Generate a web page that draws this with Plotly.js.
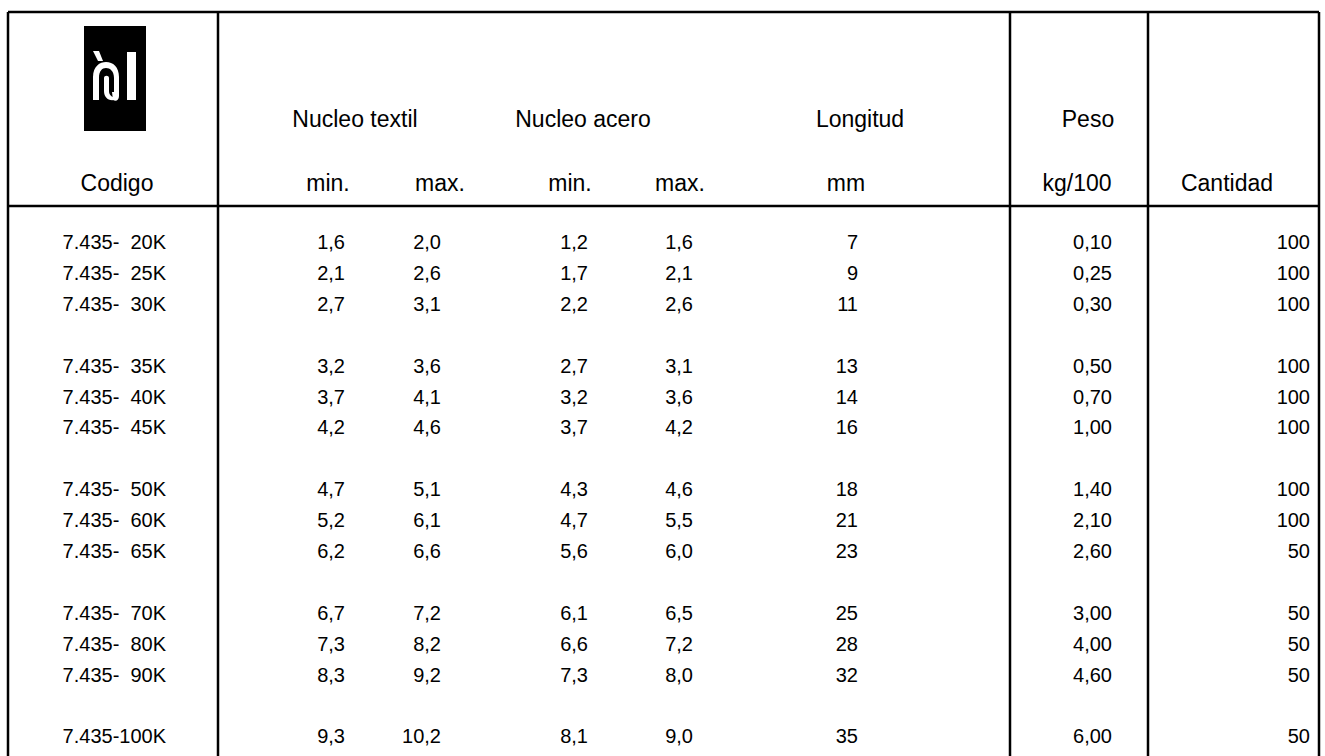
<!DOCTYPE html>
<html>
<head>
<meta charset="utf-8">
<script src="https://cdn.plot.ly/plotly-3.0.1.min.js"></script>
<style>
html,body{margin:0;padding:0;background:#fff;}
#chart{width:1325px;height:756px;}
</style>
</head>
<body>
<div id="chart"></div>
<script>
// ---- data ----
var codes = ['20K','25K','30K','35K','40K','45K','50K','60K','65K','70K','80K','90K','100K'];
var textilMin = [1.6,2.1,2.7,3.2,3.7,4.2,4.7,5.2,6.2,6.7,7.3,8.3,9.3];
var textilMax = [2.0,2.6,3.1,3.6,4.1,4.6,5.1,6.1,6.6,7.2,8.2,9.2,10.2];
var aceroMin = [1.2,1.7,2.2,2.7,3.2,3.7,4.3,4.7,5.6,6.1,6.6,7.3,8.1];
var aceroMax = [1.6,2.1,2.6,3.1,3.6,4.2,4.6,5.5,6.0,6.5,7.2,8.0,9.0];
var longitud = [7,9,11,13,14,16,18,21,23,25,28,32,35];
var peso = [0.10,0.25,0.30,0.50,0.70,1.00,1.40,2.10,2.60,3.00,4.00,4.60,6.00];
var cantidad = [100,100,100,100,100,100,100,100,50,50,50,50,50];
var headerTop = ['Nucleo textil','Nucleo acero','Longitud','Peso'];
var headerBottom = ['Codigo','min.','max.','min.','max.','mm','kg/100','Cantidad'];

// ---- layout constants ----
var W = 1325, H = 756;
var HFONT = 'Liberation Sans, Arial, sans-serif';
var DFONT = 'Liberation Sans, Arial, sans-serif';
var HFS = 23, DFS = 20;
var y0 = 244, step = 30.9;
function rowY(i){ return y0 + (i + Math.floor(i/3)) * step; }
function fmt(v, d){ return v.toFixed(d).replace('.', ','); }
function codeLabel(c){ return '7.435-' + (c.length < 4 ? '\u00A0\u00A0' : '') + c; }

var ys = codes.map(function(_, i){ return rowY(i); });

var columns = [
  {x:166, text: codes.map(codeLabel)},
  {x:345, text: textilMin.map(function(v){return fmt(v,1);})},
  {x:441, text: textilMax.map(function(v){return fmt(v,1);})},
  {x:588, text: aceroMin.map(function(v){return fmt(v,1);})},
  {x:693, text: aceroMax.map(function(v){return fmt(v,1);})},
  {x:858, text: longitud.map(String)},
  {x:1112, text: peso.map(function(v){return fmt(v,2);})},
  {x:1310, text: cantidad.map(String)}
];

var traces = columns.map(function(col){
  return {
    type:'scatter', mode:'text', x: ys.map(function(){return col.x;}), y: ys,
    text: col.text, textposition:'middle left',
    textfont:{family:DFONT, size:DFS, color:'#000'},
    hoverinfo:'skip', showlegend:false, cliponaxis:false
  };
});

var topX = [355, 583, 860, 1088];
traces.push({
  type:'scatter', mode:'text', x: topX, y: topX.map(function(){return 121;}),
  text: headerTop, textposition:'middle center',
  textfont:{family:HFONT, size:HFS, color:'#000'}, hoverinfo:'skip', showlegend:false, cliponaxis:false
});
var botX = [117, 328, 440, 570, 680, 846, 1077, 1227];
traces.push({
  type:'scatter', mode:'text', x: botX, y: botX.map(function(){return 185;}),
  text: headerBottom, textposition:'middle center',
  textfont:{family:HFONT, size:HFS, color:'#000'}, hoverinfo:'skip', showlegend:false, cliponaxis:false
});

var LW = 2.5;
function ln(x0,y0_,x1,y1){ return {type:'line', xref:'x', yref:'y', x0:x0, y0:y0_, x1:x1, y1:y1, line:{color:'#000', width:LW}}; }
var shapes = [
  ln(8,12,1319,12),
  ln(8,12,8,770),
  ln(1319,12,1319,770),
  ln(8,206,1319,206),
  ln(218,12,218,770),
  ln(1010,12,1010,770),
  ln(1148,12,1148,770),
  // logo box
  {type:'rect', xref:'x', yref:'y', x0:84, y0:26, x1:146, y1:131, fillcolor:'#000', line:{width:0}},
  // logo glyph: accent
  {type:'path', xref:'x', yref:'y', path:'M 93 51 L 99 51 L 103 61 L 98 61 Z', fillcolor:'#fff', line:{width:0}},
  // arch
  {type:'path', xref:'x', yref:'y',
   path:'M 93 100 L 93 77 C 93 66 100 62 106 62 C 113 62 119 67 119 77 L 119 96 C 119 100 116 102 113 100 L 112 92 L 114 92 L 114 78 C 114 71 110 68 106 68 C 102 68 99 71 99 78 L 99 100 Z',
   fillcolor:'#fff', line:{width:0}},
  // inner hook
  {type:'path', xref:'x', yref:'y',
   path:'M 104 78 C 104 75 109 75 109 78 L 109 91 C 109 95 112 97 114 97 L 114 100 C 108 101 104 97 104 91 Z',
   fillcolor:'#fff', line:{width:0}},
  // l bar
  {type:'path', xref:'x', yref:'y', path:'M 127 52 L 136 52 L 136 100 L 127 100 Z', fillcolor:'#fff', line:{width:0}}
];

var layout = {
  width: W, height: H,
  margin:{l:0, r:0, t:0, b:0, pad:0},
  paper_bgcolor:'#fff', plot_bgcolor:'#fff',
  xaxis:{range:[0,W], visible:false, fixedrange:true},
  yaxis:{range:[H,0], visible:false, fixedrange:true},
  shapes: shapes,
  showlegend:false
};

Plotly.newPlot('chart', traces, layout, {staticPlot:true, displayModeBar:false});
</script>
</body>
</html>
